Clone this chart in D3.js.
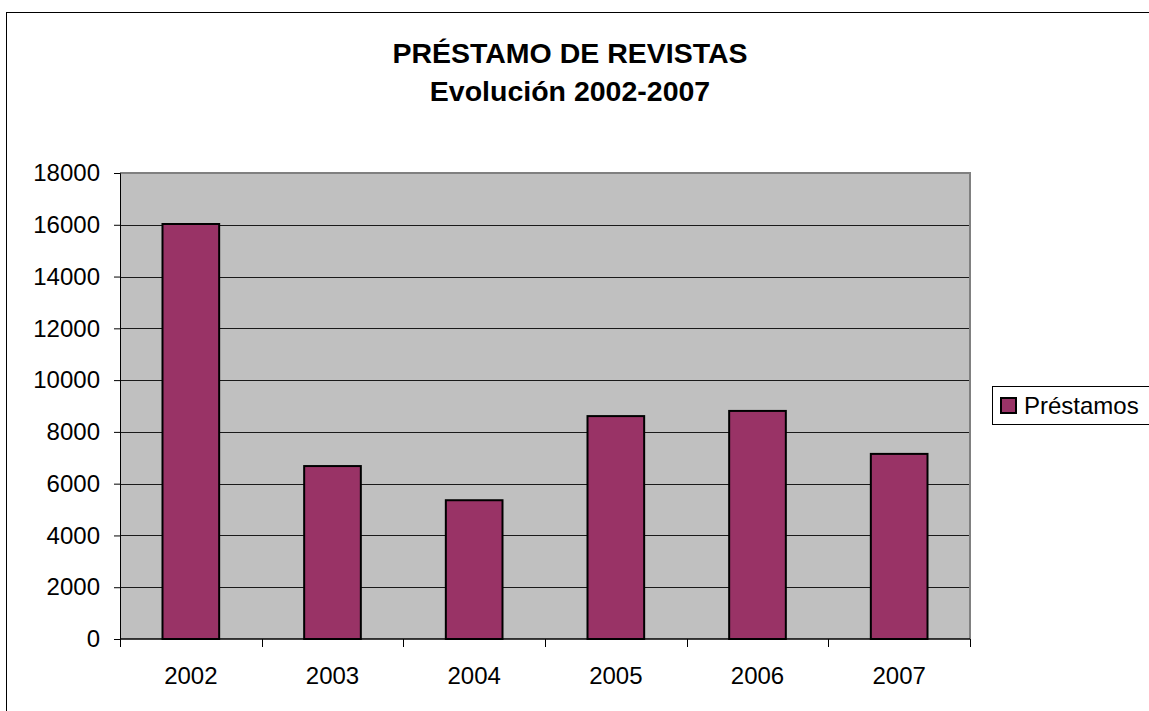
<!DOCTYPE html>
<html>
<head>
<meta charset="utf-8">
<script src="https://cdn.jsdelivr.net/npm/d3@7"></script>
<style>
  body { margin: 0; background: #fff; }
  svg { display: block; font-family: "Liberation Sans", Arial, sans-serif; }
</style>
</head>
<body>
<svg width="1149" height="711"></svg>
<script>
const years = ["2002", "2003", "2004", "2005", "2006", "2007"];
const prestamos = [16030, 6680, 5360, 8610, 8810, 7150];
const yTicks = [0, 2000, 4000, 6000, 8000, 10000, 12000, 14000, 16000, 18000];
const titleLines = ["PRÉSTAMO DE REVISTAS", "Evolución 2002-2007"];
const seriesName = "Préstamos";

let svg = d3.select("svg");

// chart frame
svg.append("rect")
    .attr("x", 6.5).attr("y", 12.5)
    .attr("width", 1160).attr("height", 720)
    .attr("fill", "#fff")
    .attr("stroke", "#000")
    .attr("stroke-width", 1);

const plot = {left: 120, top: 173, right: 970, bottom: 639};

let x = d3.scaleBand()
    .domain(years)
    .range([plot.left, plot.right])
    .paddingInner(0.6)
    .paddingOuter(0.3);

let xEdges = d3.scalePoint()
    .domain(d3.range(years.length + 1))
    .range([plot.left, plot.right]);

let y = d3.scaleLinear()
    .domain([0, 18000])
    .range([plot.bottom, plot.top]);

// plot area
svg.append("rect")
    .attr("x", plot.left)
    .attr("y", plot.top)
    .attr("width", plot.right - plot.left)
    .attr("height", plot.bottom - plot.top)
    .attr("fill", "#c0c0c0");

// gridlines
svg.append("g")
    .selectAll("line")
    .data(yTicks.filter(d => d > 0 && d < 18000))
    .enter()
    .append("line")
    .attr("x1", plot.left).attr("x2", plot.right)
    .attr("y1", d => Math.round(y(d)) + 0.5)
    .attr("y2", d => Math.round(y(d)) + 0.5)
    .attr("stroke", "#1a1a1a")
    .attr("stroke-width", 1);

// plot border (gray, top & right)
svg.append("path")
    .attr("d", `M${plot.left},${plot.top} H${plot.right} V${plot.bottom}`)
    .attr("fill", "none")
    .attr("stroke", "#808080")
    .attr("stroke-width", 2);

// bars
svg.append("g")
    .selectAll("rect")
    .data(years.map((yr, i) => ({year: yr, value: prestamos[i]})))
    .enter()
    .append("rect")
    .attr("x", d => x(d.year))
    .attr("y", d => y(d.value))
    .attr("width", x.bandwidth())
    .attr("height", d => y(0) - y(d.value))
    .attr("fill", "#993366")
    .attr("stroke", "#000")
    .attr("stroke-width", 2);

// y axis
let yAxis = svg.append("g")
    .attr("transform", `translate(${plot.left},0)`)
    .call(d3.axisLeft(y).tickValues(yTicks).tickSize(6).tickPadding(14).tickFormat(d3.format("d")));
yAxis.select(".domain").attr("stroke", "#000").attr("stroke-width", 1);
yAxis.selectAll(".tick line").attr("stroke", "#000");
yAxis.selectAll("text")
    .attr("font-size", 24)
    .attr("fill", "#000")
    .attr("font-family", "Liberation Sans, Arial, sans-serif");

// x axis
svg.append("line")
    .attr("x1", plot.left).attr("x2", plot.right)
    .attr("y1", plot.bottom).attr("y2", plot.bottom)
    .attr("stroke", "#000")
    .attr("stroke-width", 1.5);

svg.append("g")
    .selectAll("line")
    .data(d3.range(years.length + 1))
    .enter()
    .append("line")
    .attr("x1", d => Math.round(xEdges(d)) + 0.5)
    .attr("x2", d => Math.round(xEdges(d)) + 0.5)
    .attr("y1", plot.bottom)
    .attr("y2", plot.bottom + 8)
    .attr("stroke", "#000");

svg.append("g")
    .selectAll("text")
    .data(years)
    .enter()
    .append("text")
    .attr("x", d => x(d) + x.bandwidth() / 2)
    .attr("y", 684)
    .attr("text-anchor", "middle")
    .attr("font-size", 24)
    .text(d => d);

// title
svg.append("g")
    .selectAll("text")
    .data(titleLines)
    .enter()
    .append("text")
    .attr("x", 570)
    .attr("y", (d, i) => 63 + i * 38)
    .attr("text-anchor", "middle")
    .attr("font-size", 28.5)
    .attr("font-weight", "bold")
    .text(d => d);

// legend
let legend = svg.append("g");
legend.append("rect")
    .attr("x", 992.5).attr("y", 386.5)
    .attr("width", 200).attr("height", 38)
    .attr("fill", "#fff")
    .attr("stroke", "#000")
    .attr("stroke-width", 1);
legend.append("rect")
    .attr("x", 1001).attr("y", 398)
    .attr("width", 15).attr("height", 15)
    .attr("fill", "#993366")
    .attr("stroke", "#000")
    .attr("stroke-width", 2);
legend.append("text")
    .attr("x", 1024).attr("y", 414)
    .attr("font-size", 24)
    .text(seriesName);
</script>
</body>
</html>
